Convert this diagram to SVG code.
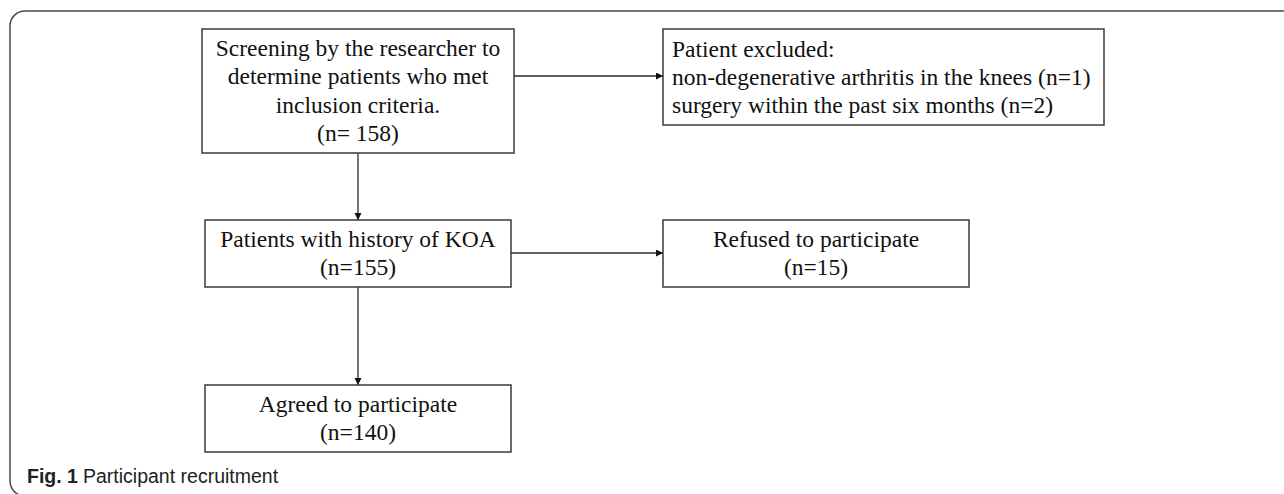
<svg xmlns="http://www.w3.org/2000/svg" width="1284" height="494" viewBox="0 0 1284 494">
<style>
.box{fill:#fff;stroke:#3a3a3a;stroke-width:1.5}
.t{font-family:"Liberation Serif","Times New Roman",serif;font-size:23.5px;fill:#111}
.c{text-anchor:middle}
.conn{stroke:#2a2a2a;stroke-width:1.3;fill:none;marker-end:url(#ah)}
.cap{font-family:"Liberation Sans",Arial,sans-serif;font-size:19.5px;fill:#222}
</style>
<defs>
<marker id="ah" markerUnits="userSpaceOnUse" markerWidth="8" markerHeight="8" refX="7" refY="3.5" orient="auto">
<path d="M0,0 L7,3.5 L0,7 z" fill="#111"/>
</marker>
</defs>
<rect width="1284" height="494" fill="#fff"/>
<path d="M1284,11 H25 A15,15 0 0 0 10,26 V481 A15,15 0 0 0 25,496" fill="none" stroke="#4a4a4a" stroke-width="1.5"/>
<g id="connectors">
<line class="conn" x1="514" y1="76" x2="663" y2="76"/>
<line class="conn" x1="358" y1="153" x2="358" y2="220"/>
<line class="conn" x1="511" y1="253" x2="663" y2="253"/>
<line class="conn" x1="358" y1="287" x2="358" y2="385"/>
</g>
<g id="screening">
<rect class="box" x="202" y="29" width="312" height="124"/>
<text class="t c" x="358" y="56">Screening by the researcher to</text>
<text class="t c" x="358" y="84">determine patients who met</text>
<text class="t c" x="358" y="112.5">inclusion criteria.</text>
<text class="t c" x="358" y="140.5">(n= 158)</text>
</g>
<g id="excluded">
<rect class="box" x="663" y="29" width="441" height="96"/>
<text class="t" x="672" y="57">Patient excluded:</text>
<text class="t" x="672" y="85">non-degenerative arthritis in the knees (n=1)</text>
<text class="t" x="672" y="113">surgery within the past six months (n=2)</text>
</g>
<g id="koa">
<rect class="box" x="205" y="220" width="306" height="67"/>
<text class="t c" x="358" y="246.5">Patients with history of KOA</text>
<text class="t c" x="358" y="274.5">(n=155)</text>
</g>
<g id="refused">
<rect class="box" x="663" y="220" width="306" height="67"/>
<text class="t c" x="816" y="246.5">Refused to participate</text>
<text class="t c" x="816" y="274.5">(n=15)</text>
</g>
<g id="agreed">
<rect class="box" x="205" y="385" width="306" height="67"/>
<text class="t c" x="358" y="411.5">Agreed to participate</text>
<text class="t c" x="358" y="440">(n=140)</text>
</g>
<g id="caption">
<text class="cap" x="27" y="483" font-weight="bold">Fig. 1</text>
<text class="cap" x="83" y="483">Participant recruitment</text>
</g>
</svg>
